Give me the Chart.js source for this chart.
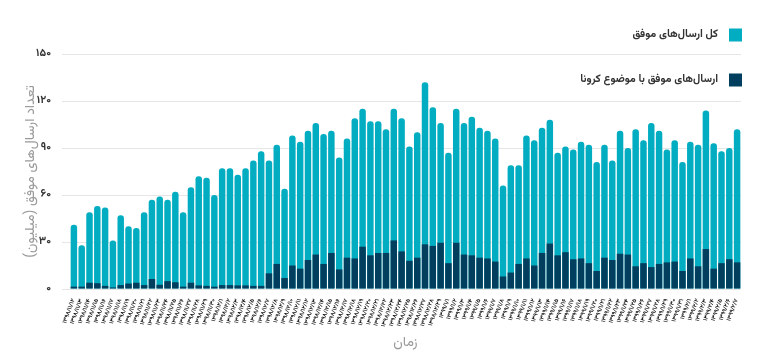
<!DOCTYPE html>
<html>
<head>
<meta charset="utf-8">
<style>
html, body { margin: 0; padding: 0; background: #fff; }
#wrap { width: 761px; height: 356px; }
</style>
<script src="https://cdn.jsdelivr.net/npm/chart.js@4.4.0/dist/chart.umd.min.js"></script>
</head>
<body>
<div id="wrap"><canvas id="chart" width="761" height="356"></canvas></div>
<script>
// dates (Jalali), one bar per day
const xLabels = [
  '۱۳۹۸/۱۱/۱۲','۱۳۹۸/۱۱/۱۳','۱۳۹۸/۱۱/۱۴','۱۳۹۸/۱۱/۱۵','۱۳۹۸/۱۱/۱۶','۱۳۹۸/۱۱/۱۷','۱۳۹۸/۱۱/۱۸','۱۳۹۸/۱۱/۱۹','۱۳۹۸/۱۱/۲۰','۱۳۹۸/۱۱/۲۱',
  '۱۳۹۸/۱۱/۲۲','۱۳۹۸/۱۱/۲۳','۱۳۹۸/۱۱/۲۴','۱۳۹۸/۱۱/۲۵','۱۳۹۸/۱۱/۲۶','۱۳۹۸/۱۱/۲۷','۱۳۹۸/۱۱/۲۸','۱۳۹۸/۱۱/۲۹','۱۳۹۸/۱۱/۳۰',
  '۱۳۹۸/۱۲/۱','۱۳۹۸/۱۲/۲','۱۳۹۸/۱۲/۳','۱۳۹۸/۱۲/۴','۱۳۹۸/۱۲/۵','۱۳۹۸/۱۲/۶','۱۳۹۸/۱۲/۷','۱۳۹۸/۱۲/۸','۱۳۹۸/۱۲/۹','۱۳۹۸/۱۲/۱۰',
  '۱۳۹۸/۱۲/۱۱','۱۳۹۸/۱۲/۱۲','۱۳۹۸/۱۲/۱۳','۱۳۹۸/۱۲/۱۴','۱۳۹۸/۱۲/۱۵','۱۳۹۸/۱۲/۱۶','۱۳۹۸/۱۲/۱۷','۱۳۹۸/۱۲/۱۸','۱۳۹۸/۱۲/۱۹','۱۳۹۸/۱۲/۲۰',
  '۱۳۹۸/۱۲/۲۱','۱۳۹۸/۱۲/۲۲','۱۳۹۸/۱۲/۲۳','۱۳۹۸/۱۲/۲۴','۱۳۹۸/۱۲/۲۵','۱۳۹۸/۱۲/۲۶','۱۳۹۸/۱۲/۲۷','۱۳۹۸/۱۲/۲۸','۱۳۹۸/۱۲/۲۹',
  '۱۳۹۹/۱/۱','۱۳۹۹/۱/۲','۱۳۹۹/۱/۳','۱۳۹۹/۱/۴','۱۳۹۹/۱/۵','۱۳۹۹/۱/۶','۱۳۹۹/۱/۷','۱۳۹۹/۱/۸','۱۳۹۹/۱/۹','۱۳۹۹/۱/۱۰',
  '۱۳۹۹/۱/۱۱','۱۳۹۹/۱/۱۲','۱۳۹۹/۱/۱۳','۱۳۹۹/۱/۱۴','۱۳۹۹/۱/۱۵','۱۳۹۹/۱/۱۶','۱۳۹۹/۱/۱۷','۱۳۹۹/۱/۱۸','۱۳۹۹/۱/۱۹','۱۳۹۹/۱/۲۰',
  '۱۳۹۹/۱/۲۱','۱۳۹۹/۱/۲۲','۱۳۹۹/۱/۲۳','۱۳۹۹/۱/۲۴','۱۳۹۹/۱/۲۵','۱۳۹۹/۱/۲۶','۱۳۹۹/۱/۲۷','۱۳۹۹/۱/۲۸','۱۳۹۹/۱/۲۹','۱۳۹۹/۱/۳۰',
  '۱۳۹۹/۱/۳۱','۱۳۹۹/۲/۱','۱۳۹۹/۲/۲','۱۳۹۹/۲/۳','۱۳۹۹/۲/۴','۱۳۹۹/۲/۵','۱۳۹۹/۲/۶','۱۳۹۹/۲/۷'
];

// millions
const totalSends = [
  41, 28, 49, 53, 52, 31, 47, 40, 39, 49,
  57, 59, 57, 62, 49, 65, 72, 71, 60, 77,
  77, 73, 77, 82, 88, 82, 92, 64, 98, 94,
  101, 106, 99, 101, 84, 96, 109, 115, 107, 107,
  102, 115, 109, 91, 100, 132, 116, 106, 87, 115,
  106, 110, 103, 101, 96, 66, 79, 79, 98, 95,
  103, 108, 87, 91, 89, 94, 92, 81, 92, 82,
  101, 90, 102, 95, 106, 101, 89, 95, 81, 94,
  92, 114, 93, 88, 90, 102
];
const coronaSends = [
  1.5, 1.5, 4, 3.7, 2, 1, 2.5, 3.5, 4, 2.5,
  6.4, 2.7, 5, 4.3, 1.5, 4, 2.3, 2, 1.5, 2.5,
  2.5, 2.3, 2.3, 2, 2, 10, 16, 7, 15, 13,
  18.5, 22, 16, 23, 12.5, 20, 19.5, 27, 21.5, 23,
  23, 31, 24, 18, 20, 28.5, 27.5, 29.5, 16.5, 29.5,
  22, 21.5, 20, 19.5, 17.5, 8, 10.5, 16, 19.5, 15,
  23, 29, 21.5, 23.5, 19, 19.5, 16.5, 11.5, 20, 18.5,
  22.5, 22, 14.5, 16.5, 14, 16, 17, 17.5, 11.5, 19.5,
  14.5, 25.5, 13, 16.5, 19, 17
];

const yTickLabels = ['۰', '۳۰', '۶۰', '۹۰', '۱۲۰', '۱۵۰'];
const seriesNames = ['کل ارسال‌های موفق', 'ارسال‌های موفق با موضوع کرونا'];

const faFont = 'Vazirmatn, "Noto Sans Arabic", "DejaVu Sans", sans-serif';
const TEAL = '#02adc1';
const NAVY = '#023f5e';

// legend sits to the right, two rows, partly over the plot
const sideLegend = {
  id: 'sideLegend',
  afterDraw(chart) {
    const ctx = chart.ctx;
    const rowsY = [35, 80];
    ctx.save();
    ctx.font = 'bold 11px ' + faFont;
    ctx.textAlign = 'right';
    ctx.textBaseline = 'middle';
    chart.data.datasets.forEach((ds, i) => {
      const y = rowsY[i];
      ctx.fillStyle = ds.backgroundColor;
      ctx.fillRect(729, y - 6.5, 13, 13);
      ctx.fillStyle = '#333';
      ctx.fillText(ds.label + '\u200F', 718, y);
    });
    ctx.restore();
  }
};

new Chart(document.getElementById('chart'), {
  type: 'bar',
  data: {
    labels: xLabels,
    datasets: [
      { label: seriesNames[0], data: totalSends, backgroundColor: TEAL, order: 2, grouped: false,
        borderRadius: { topLeft: 3, topRight: 3 }, borderSkipped: 'start' },
      { label: seriesNames[1], data: coronaSends, backgroundColor: NAVY, order: 1, grouped: false }
    ]
  },
  options: {
    responsive: false,
    animation: false,
    devicePixelRatio: 1,
    layout: { padding: { left: 23, right: 20, top: 54, bottom: 2 } },
    datasets: { bar: { categoryPercentage: 0.9, barPercentage: 0.92 } },
    plugins: { legend: { display: false }, tooltip: { enabled: false } },
    scales: {
      x: {
        afterFit: (s) => { s.height = 65; },
        grid: { display: false },
        border: { display: false },
        ticks: { autoSkip: false, minRotation: 70, maxRotation: 70, padding: 1,
                 color: '#111', font: { family: faFont, size: 6, weight: 'bold' } },
        title: { display: true, text: 'زمان', color: '#9a9a9a', padding: { top: 4, bottom: 2 },
                 font: { family: faFont, size: 14 } }
      },
      y: {
        min: 0, max: 150,
        afterFit: (s) => { s.width = 47; },
        grid: { color: '#e6e6e6' },
        border: { display: false },
        ticks: { stepSize: 30, padding: 11, color: '#333',
                 font: { family: faFont, size: 11, weight: 'bold' },
                 callback: (v, i) => yTickLabels[i] },
        title: { display: true, text: 'تعداد ارسال‌های موفق (میلیون)\u200F', color: '#9a9a9a',
                 padding: { top: 0, bottom: 0 }, font: { family: faFont, size: 14 } }
      }
    }
  },
  plugins: [sideLegend]
});
</script>
</body>
</html>
